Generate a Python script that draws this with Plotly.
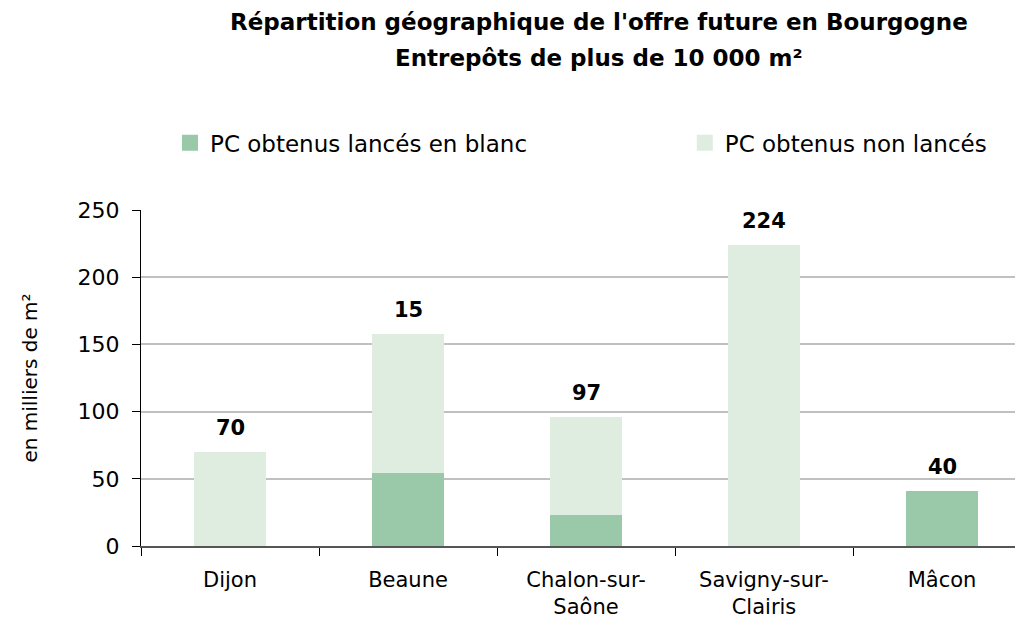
import plotly.graph_objects as go

categories = ["Dijon", "Beaune", "Chalon-sur-<br>Saône", "Savigny-sur-<br>Clairis", "Mâcon"]
lances_blanc = [0, 54, 23, 0, 41]
non_lances = [70, 104, 73, 224, 0]
label_text = ["70", "15", "97", "224", "40"]
totals = [a + b for a, b in zip(lances_blanc, non_lances)]
series_names = ["PC obtenus lancés en blanc", "PC obtenus non lancés"]
title_line1 = "Répartition géographique de l'offre future en Bourgogne"
title_line2 = "Entrepôts de plus de 10 000 m²"

FONT = "DejaVu Sans, Verdana, sans-serif"
DARK = "#99C9A8"
LIGHT = "#DFEDE1"

fig = go.Figure()
fig.add_trace(go.Bar(x=categories, y=lances_blanc, name=series_names[0], showlegend=False,
                     marker=dict(color=DARK, line=dict(width=0)), width=0.4))
fig.add_trace(go.Bar(x=categories, y=non_lances, name=series_names[1], showlegend=False,
                     marker=dict(color=LIGHT, line=dict(width=0)), width=0.4))
# legend entries with larger square swatches
fig.add_trace(go.Scatter(x=[None], y=[None], mode="markers", name=series_names[0],
                         marker=dict(symbol="square", size=17, color=DARK), legend="legend"))
fig.add_trace(go.Scatter(x=[None], y=[None], mode="markers", name=series_names[1],
                         marker=dict(symbol="square", size=17, color=LIGHT), legend="legend2"))

annotations = [
    dict(text="<b>" + title_line1 + "</b>", xref="paper", yref="paper", x=0.5146, y=1.5595,
         xanchor="center", yanchor="middle", showarrow=False,
         font=dict(family=FONT, size=23, color="black")),
    dict(text="<b>" + title_line2 + "</b>", xref="paper", yref="paper", x=0.5146, y=1.452,
         xanchor="center", yanchor="middle", showarrow=False,
         font=dict(family=FONT, size=23, color="black")),
]
for cat, tot, lab in zip(categories, totals, label_text):
    annotations.append(dict(text="<b>" + lab + "</b>", x=cat, y=tot, xref="x", yref="y",
                            xanchor="center", yanchor="bottom", yshift=10, showarrow=False,
                            font=dict(family=FONT, size=21, color="black")))

fig.update_layout(
    width=1023, height=631,
    barmode="stack",
    plot_bgcolor="white", paper_bgcolor="white",
    margin=dict(l=133, r=0, t=202, b=93),
    font=dict(family=FONT, size=20, color="black"),
    annotations=annotations,
    legend=dict(x=0.0326, y=1.2, xanchor="left", yanchor="middle", orientation="h",
                font=dict(family=FONT, size=23), bgcolor="rgba(0,0,0,0)", itemwidth=30),
    legend2=dict(x=0.611, y=1.2, xanchor="left", yanchor="middle", orientation="h",
                 font=dict(family=FONT, size=23), bgcolor="rgba(0,0,0,0)", itemwidth=30),
    xaxis=dict(type="category", tickson="boundaries", ticks="outside", ticklen=8,
               tickcolor="black", showline=True, linecolor="#555555", linewidth=1.5,
               showgrid=False, range=[-0.5, 4.5], tickfont=dict(size=21),
               ticklabelstandoff=14),
    yaxis=dict(range=[0, 250], dtick=50, ticks="outside", ticklen=8, tickcolor="black",
               showline=True, linecolor="black", linewidth=1, showgrid=True,
               gridcolor="#C0C0C0", gridwidth=1.5, zeroline=False,
               title=dict(text="en milliers de m²", font=dict(size=20), standoff=34),
               tickfont=dict(size=22), ticklabelstandoff=8),
)

fig.write_html("out.html")
